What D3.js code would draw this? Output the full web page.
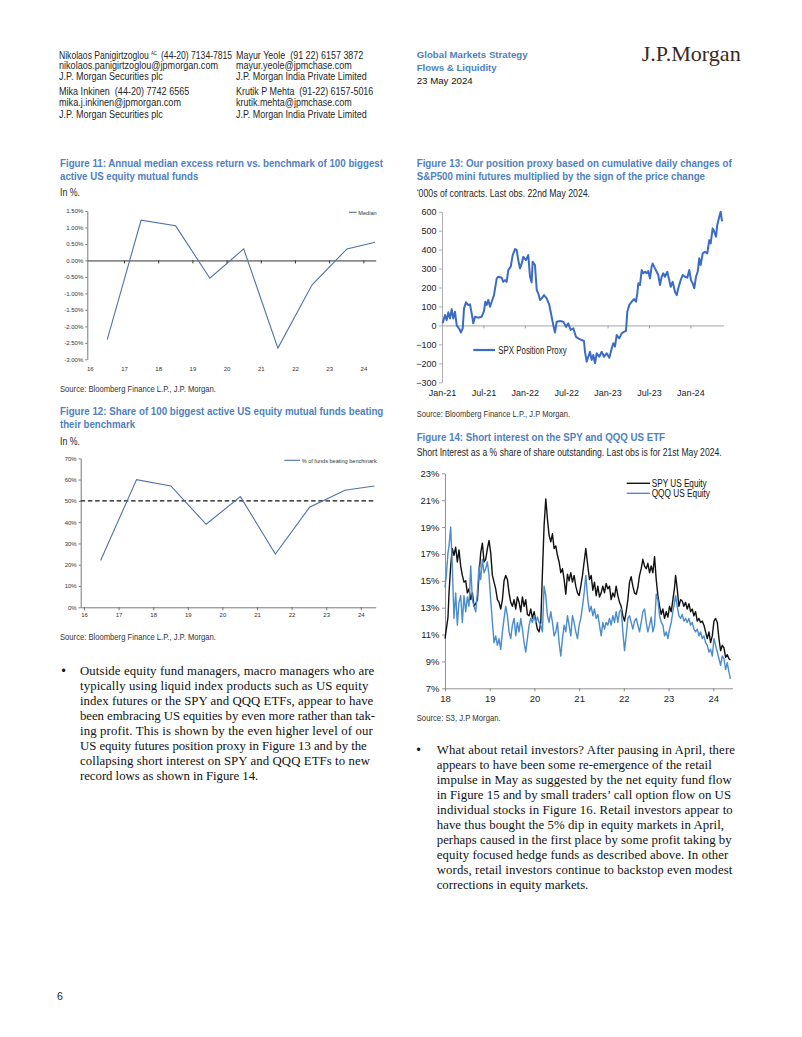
<!DOCTYPE html>
<html><head><meta charset="utf-8">
<script src="https://cdn.jsdelivr.net/npm/d3@7/dist/d3.min.js"></script>
<style>
html,body{margin:0;padding:0;background:#fff;}
svg{display:block;}
text{white-space:pre;}
</style></head><body>
<svg id="page" width="802" height="1037"></svg>
<script>
// ---------------- DATA ----------------
// Figure 11: annual median excess return (%)
const fig11Years = [2016.51, 2017.50, 2018.51, 2019.51, 2020.50, 2021.50, 2022.50, 2023.52, 2024.34];
const fig11Median = [-2.40, 1.22, 1.05, -0.54, 0.35, -2.66, -0.74, 0.35, 0.55];
const fig11YTicks = [1.5, 1.0, 0.5, 0, -0.5, -1.0, -1.5, -2.0, -2.5, -3.0];
const fig11XTicks = [2016, 2017, 2018, 2019, 2020, 2021, 2022, 2023, 2024];
const fig11XLabels = ["16","17","18","19","20","21","22","23","24"];

// Figure 12: share of funds beating benchmark (%)
const fig12Years = [2016.48, 2017.52, 2018.51, 2019.53, 2020.52, 2021.53, 2022.52, 2023.54, 2024.39];
const fig12Share = [22, 60, 57, 39, 52, 25, 47, 55, 57];
const fig12Threshold = 50;
const fig12YTicks = [0, 10, 20, 30, 40, 50, 60, 70];
const fig12XTicks = [2016, 2017, 2018, 2019, 2020, 2021, 2022, 2023, 2024];
const fig12XLabels = ["16","17","18","19","20","21","22","23","24"];

// Figure 13: SPX position proxy ('000s contracts)
const spxDates = [2021.008,2021.036,2021.057,2021.076,2021.097,2021.117,2021.136,2021.157,2021.178,2021.209,
2021.229,2021.250,2021.266,2021.290,2021.314,2021.338,2021.362,2021.378,2021.399,2021.438,
2021.479,2021.507,2021.523,2021.540,2021.559,2021.580,2021.600,2021.628,2021.661,2021.680,
2021.721,2021.740,2021.761,2021.781,2021.801,2021.830,2021.854,2021.882,2021.902,2021.921,
2021.942,2021.963,2021.982,2022.014,2022.042,2022.063,2022.083,2022.095,2022.123,2022.144,
2022.163,2022.184,2022.204,2022.232,2022.264,2022.296,2022.316,2022.344,2022.365,2022.385,
2022.425,2022.465,2022.498,2022.525,2022.554,2022.586,2022.618,2022.646,2022.687,2022.715,
2022.727,2022.748,2022.767,2022.787,2022.808,2022.827,2022.848,2022.868,2022.900,2022.929,
2022.957,2022.989,2023.021,2023.050,2023.069,2023.089,2023.110,2023.141,2023.170,2023.198,
2023.222,2023.238,2023.262,2023.291,2023.319,2023.343,2023.359,2023.371,2023.391,2023.412,
2023.431,2023.452,2023.472,2023.491,2023.512,2023.532,2023.544,2023.572,2023.593,2023.612,
2023.633,2023.653,2023.673,2023.693,2023.721,2023.745,2023.762,2023.786,2023.814,2023.835,
2023.854,2023.883,2023.907,2023.935,2023.963,2023.987,2024.007,2024.028,2024.047,2024.068,
2024.088,2024.107,2024.124,2024.149,2024.176,2024.204,2024.228,2024.245,2024.269,2024.289,
2024.309,2024.325,2024.349,2024.366,2024.380,2024.388];
const spxValues = [11,55,28,69,37,86,37,72,0,-19,
-37,-15,90,122,108,111,55,11,46,41,
46,76,125,108,134,99,125,160,248,257,
252,230,239,230,292,310,371,403,398,345,
301,327,362,345,371,257,227,336,319,187,
169,134,143,160,143,108,64,2,-37,20,
23,20,-7,11,-24,-15,-60,-68,-77,-82,
-139,-191,-165,-139,-182,-156,-200,-147,-165,-139,
-165,-147,-170,-121,-94,-112,-51,-68,-42,-33,
-30,72,108,125,139,125,169,222,213,292,
275,283,275,287,248,310,327,301,283,266,
213,257,275,257,283,239,204,230,178,160,
196,239,266,257,252,292,239,222,196,257,
283,354,319,380,389,380,450,433,512,494,
468,530,573,600,556,550];
const fig13YTicks = [600, 500, 400, 300, 200, 100, 0, -100, -200, -300];
const fig13XTicks = [2021, 2021.5, 2022, 2022.5, 2023, 2023.5, 2024];
const fig13XLabels = ["Jan-21","Jul-21","Jan-22","Jul-22","Jan-23","Jul-23","Jan-24"];

// Figure 14: short interest (% of shares outstanding)
const fig14Dates = [2018.000,2018.030,2018.067,2018.090,2018.127,2018.164,2018.201,
2018.239,2018.276,2018.313,2018.351,2018.388,2018.425,2018.463,2018.500,2018.537,2018.575,
2018.612,2018.649,2018.687,2018.724,2018.761,2018.799,2018.836,2018.873,2018.910,2018.948,
2018.985,2019.022,2019.060,2019.097,2019.134,2019.172,2019.209,2019.246,2019.284,2019.321,
2019.358,2019.396,2019.433,2019.470,2019.507,2019.545,2019.582,2019.619,2019.657,2019.694,
2019.731,2019.769,2019.806,2019.843,2019.881,2019.918,2019.955,2019.993,2020.030,2020.067,
2020.104,2020.142,2020.179,2020.216,2020.254,2020.291,2020.328,2020.366,2020.403,2020.440,
2020.478,2020.515,2020.552,2020.590,2020.627,2020.664,2020.701,2020.739,2020.776,2020.813,
2020.851,2020.888,2020.925,2020.963,2021.000,2021.037,2021.075,2021.112,2021.149,
2021.194,2021.231,2021.269,2021.306,2021.343,2021.381,2021.418,2021.455,2021.493,2021.530,
2021.567,2021.604,2021.642,2021.679,2021.716,2021.754,2021.791,2021.828,2021.866,2021.903,
2021.940,2021.978,2022.015,2022.052,2022.090,2022.127,2022.164,2022.201,2022.239,2022.276,
2022.313,2022.351,2022.388,2022.425,2022.463,2022.500,2022.537,2022.575,2022.612,2022.649,
2022.687,2022.724,2022.761,2022.799,2022.836,2022.873,2022.910,2022.948,2022.985,2023.022,
2023.060,2023.097,2023.134,
2023.157,2023.194,2023.231,2023.269,2023.306,2023.343,2023.381,2023.418,2023.455,2023.493,
2023.530,2023.567,2023.604,2023.642,2023.679,2023.716,2023.754,2023.791,2023.828,2023.866,
2023.903,2023.940,2023.978,2024.015,2024.052,2024.090,2024.127,2024.164,2024.201,2024.239,
2024.276,2024.313,2024.351,2024.385];
const spyValues = [10.7,11.4,12.3,14.1,16.1,17.4,16.9,
17.5,16.4,17.3,16.1,15.4,14.9,15.0,14.1,14.4,13.6,
14.1,13.1,13.3,13.6,15.4,17.1,17.8,16.4,16.6,17.4,
18.0,17.1,15.4,14.9,14.4,13.6,13.4,12.9,13.6,15.0,
15.4,15.1,14.1,13.4,13.1,13.6,12.9,13.8,13.4,12.7,
13.8,13.1,13.6,12.5,12.4,12.9,12.2,12.7,12.0,11.4,
11.2,11.9,15.6,19.1,21.1,19.6,18.4,17.9,18.5,17.4,
17.6,16.9,16.4,15.6,15.9,15.1,14.0,15.5,15.0,15.6,
14.9,15.4,14.6,14.1,13.9,14.6,15.4,16.4,17.4,
16.1,15.1,15.4,14.3,14.9,13.9,14.6,13.8,14.1,14.6,
14.1,14.8,14.4,14.6,13.6,14.1,13.8,14.6,13.9,13.4,
13.1,12.4,12.0,12.7,13.6,14.9,15.3,14.6,14.1,14.0,
14.5,15.4,15.9,16.6,16.1,15.9,16.3,15.6,16.1,15.6,
16.8,15.1,13.9,13.1,12.5,12.9,12.2,12.7,12.3,13.1,
12.7,13.6,14.5,
15.4,14.4,13.1,13.6,13.5,13.1,13.4,12.9,13.3,12.7,
12.9,12.4,12.7,12.0,12.2,11.9,12.0,11.7,11.2,10.7,
11.2,10.4,10.9,12.0,12.2,11.9,10.7,9.8,10.2,10.0,
9.3,9.5,9.2,9.1];
const qqqValues = [14.5,15.4,17.1,17.6,19.0,16.0,12.2,
14.1,11.7,13.4,13.9,11.9,13.9,12.7,13.8,13.1,16.1,
13.6,13.1,12.7,14.1,16.1,15.1,16.6,15.6,15.9,16.4,
15.4,13.6,11.9,10.4,10.9,10.2,10.7,9.9,11.2,12.2,
13.1,12.4,11.2,10.7,11.7,12.2,10.9,11.9,11.2,12.2,
11.4,10.4,9.7,10.7,11.7,12.2,11.9,12.4,11.9,12.3,
11.9,11.7,11.2,14.6,13.9,12.4,11.9,12.7,11.9,10.9,
11.2,11.9,10.4,9.4,10.7,11.7,11.2,12.4,11.7,10.9,
12.4,11.9,11.2,10.7,11.7,12.2,13.1,14.1,15.4,
13.6,12.7,13.1,12.4,12.9,12.2,12.5,11.7,10.9,11.9,
11.4,11.9,11.7,12.2,11.7,12.4,11.9,12.7,11.9,12.7,
12.9,11.2,9.8,10.9,12.2,12.4,11.9,11.4,12.0,12.2,
11.7,11.2,11.9,12.7,12.9,11.9,11.2,11.7,12.3,11.2,
11.7,14.0,13.6,12.4,11.9,11.7,10.9,11.2,10.7,11.4,
11.9,12.7,13.4,
13.9,13.1,12.4,12.2,12.5,12.0,12.2,11.9,12.2,11.7,
11.9,11.4,11.2,11.4,10.9,11.2,10.7,10.9,10.4,10.2,
9.7,9.9,9.4,10.7,10.2,9.7,9.2,8.7,9.4,9.2,
8.4,8.9,8.2,7.7];
const fig14YTicks = [23, 21, 19, 17, 15, 13, 11, 9, 7];
const fig14XTicks = [2018, 2019, 2020, 2021, 2022, 2023, 2024];
const fig14XLabels = ["18","19","20","21","22","23","24"];

// ---------------- DRAWING ----------------
const svg = d3.select('#page');
svg.append('rect').attr('width', 802).attr('height', 1037).attr('fill', '#fff');

const SANS = "'Liberation Sans', Arial, Helvetica, sans-serif";
const NARROW = "'Liberation Sans Narrow', 'Arial Narrow', 'Liberation Sans', Arial, sans-serif";
const SERIF = "'Liberation Serif', 'Times New Roman', serif";
const BLUE = '#4f81bd';
const DARK = '#262626';

function txt(parent, x, y, s, o = {}) {
  const t = parent.append('text').attr('x', x).attr('y', y).text(s)
    .attr('font-family', o.family || SANS).attr('font-size', o.size || 10)
    .attr('fill', o.fill || DARK);
  if (o.weight) t.attr('font-weight', o.weight);
  if (o.anchor) t.attr('text-anchor', o.anchor);
  if (o.width) t.attr('textLength', o.width).attr('lengthAdjust', o.adjust || 'spacingAndGlyphs');
  return t;
}

// ---- header ----
const hdr = svg.append('g');
// first author line: condensed horizontally by a group scale (superscript kept separate)
const l1 = hdr.append('g').attr('transform', 'translate(59,58.6) scale(0.86,1)');
txt(l1, 0, 0, 'Nikolaos Panigirtzoglou', { size: 10 });
txt(l1, 107, -3.6, 'AC', { size: 5 });
txt(l1, 118.6, 0, '(44-20) 7134-7815', { size: 10 });
const hdrLeft = [[69.4, 'nikolaos.panigirtzoglou@jpmorgan.com', 159], [80.4, 'J.P. Morgan Securities plc', 103.7],
  [95.4, 'Mika Inkinen  (44-20) 7742 6565', 130.3], [106.4, 'mika.j.inkinen@jpmorgan.com', 122], [117.6, 'J.P. Morgan Securities plc', 103.7]];
hdrLeft.forEach(d => txt(hdr, 59, d[0], d[1], { size: 10, family: NARROW, width: d[2] }));
const hdrRight = [[58.6, 'Mayur Yeole  (91 22) 6157 3872', 127.3], [69.4, 'mayur.yeole@jpmchase.com', 115.7], [80.4, 'J.P. Morgan India Private Limited', 130.7],
  [95.4, 'Krutik P Mehta  (91-22) 6157-5016', 137.3], [106.4, 'krutik.mehta@jpmchase.com', 115.7], [117.6, 'J.P. Morgan India Private Limited', 130.7]];
hdrRight.forEach(d => txt(hdr, 236, d[0], d[1], { size: 10, family: NARROW, width: d[2] }));
txt(hdr, 416.7, 57.6, 'Global Markets Strategy', { size: 9.7, weight: 'bold', fill: BLUE, width: 111 });
txt(hdr, 416.7, 71, 'Flows & Liquidity', { size: 9.7, weight: 'bold', fill: BLUE, width: 80 });
txt(hdr, 416.7, 83.6, '23 May 2024', { size: 9.7, fill: '#111' });
txt(hdr, 641.7, 61, 'J.P.Morgan', { size: 21, family: SERIF, fill: '#3a2a1e', width: 99 });

// ---- generic title helpers ----
function title(lines, x) {
  lines.forEach(l => txt(svg, x, l[0], l[1], { size: 11, weight: 'bold', fill: BLUE, family: NARROW, width: l[2] }));
}

// ================= FIGURE 11 =================
title([[166.7, 'Figure 11: Annual median excess return vs. benchmark of 100 biggest', 323],
       [180, 'active US equity mutual funds', 138.3]], 60);
txt(svg, 60, 196, 'In %.', { size: 10, family: NARROW, width: 20 });
{
  const x = d3.scaleLinear().domain([2015.927, 2024.36]).range([87.3, 375.7]);
  const y = d3.scaleLinear().domain([-3, 1.5]).range([359.3, 211]);
  const g = svg.append('g');
  const ya = g.append('g').attr('transform', `translate(${x.range()[0]},0)`)
    .call(d3.axisLeft(y).tickValues(fig11YTicks).tickFormat(d => d.toFixed(2) + '%').tickSize(2).tickSizeOuter(0).tickPadding(2));
  ya.attr('font-family', SANS).attr('font-size', 6);
  ya.selectAll('path,line').attr('stroke', '#555').attr('stroke-width', 0.8);
  ya.selectAll('text').attr('fill', '#333');
  const za = g.append('g').attr('transform', `translate(0,${y(0)})`)
    .call(d3.axisBottom(x).tickValues(fig11XTicks.slice(1)).tickFormat('').tickSize(3).tickSizeOuter(0));
  za.selectAll('path,line').attr('stroke', '#333').attr('stroke-width', 1);
  const xa = g.append('g').attr('transform', `translate(0,${y.range()[0]})`)
    .call(d3.axisBottom(x).tickValues(fig11XTicks).tickFormat((d, i) => fig11XLabels[i]).tickSize(0).tickPadding(7));
  xa.select('.domain').remove();
  xa.attr('font-family', SANS).attr('font-size', 6);
  xa.selectAll('text').attr('fill', '#333');
  g.append('path').datum(fig11Years.map((d, i) => [d, fig11Median[i]]))
    .attr('d', d3.line().x(d => x(d[0])).y(d => y(d[1])))
    .attr('fill', 'none').attr('stroke', '#4e72a8').attr('stroke-width', 1.1);
  g.append('line').attr('x1', 349).attr('x2', 356.7).attr('y1', 212.3).attr('y2', 212.3).attr('stroke', '#4e72a8').attr('stroke-width', 1.1);
  txt(g, 358.3, 214.5, 'Median', { size: 6, fill: '#333', width: 18.4 });
}
txt(svg, 60, 392, 'Source: Bloomberg Finance L.P., J.P. Morgan.', { size: 9, family: NARROW, fill: '#333', width: 156 });

// ================= FIGURE 12 =================
title([[414.7, 'Figure 12: Share of 100 biggest active US equity mutual funds beating', 323.3],
       [428, 'their benchmark', 75]], 60);
txt(svg, 60, 444.6, 'In %.', { size: 10, family: NARROW, width: 20 });
{
  const x = d3.scaleLinear().domain([2015.905, 2024.43]).range([80.7, 375.7]);
  const y = d3.scaleLinear().domain([0, 70]).range([607.3, 458.3]);
  const g = svg.append('g');
  const ya = g.append('g').attr('transform', `translate(${x.range()[0]},0)`)
    .call(d3.axisLeft(y).tickValues(fig12YTicks).tickFormat(d => d + '%').tickSize(2).tickSizeOuter(0).tickPadding(2));
  ya.attr('font-family', SANS).attr('font-size', 6);
  ya.selectAll('path,line').attr('stroke', '#555').attr('stroke-width', 0.8);
  ya.selectAll('text').attr('fill', '#333');
  const xa = g.append('g').attr('transform', `translate(0,${y(0)})`)
    .call(d3.axisBottom(x).tickValues(fig12XTicks).tickFormat((d, i) => fig12XLabels[i]).tickSize(3).tickSizeOuter(0).tickPadding(2.6));
  xa.attr('font-family', SANS).attr('font-size', 6);
  xa.selectAll('path,line').attr('stroke', '#555').attr('stroke-width', 0.8);
  xa.selectAll('text').attr('fill', '#333');
  g.append('path').datum(x.domain().map(d => [d, fig12Threshold]))
    .attr('d', d3.line().x(d => x(d[0])).y(d => y(d[1])))
    .attr('fill', 'none').attr('stroke', '#111').attr('stroke-width', 1.4).attr('stroke-dasharray', '4.5,2.7');
  g.append('path').datum(fig12Years.map((d, i) => [d, fig12Share[i]]))
    .attr('d', d3.line().x(d => x(d[0])).y(d => y(d[1])))
    .attr('fill', 'none').attr('stroke', '#4e72a8').attr('stroke-width', 1.1);
  g.append('line').attr('x1', 284.3).attr('x2', 300).attr('y1', 460.3).attr('y2', 460.3).attr('stroke', '#4e72a8').attr('stroke-width', 1.1);
  txt(g, 301.7, 462.5, '% of funds beating benchmark', { size: 6, fill: '#333', width: 75 });
}
txt(svg, 60, 640.3, 'Source: Bloomberg Finance L.P., J.P. Morgan.', { size: 9, family: NARROW, fill: '#333', width: 156 });

// ================= FIGURE 13 =================
title([[166.7, 'Figure 13: Our position proxy based on cumulative daily changes of', 315],
       [180, 'S&P500 mini futures multiplied by the sign of the price change', 288.3]], 416.7);
txt(svg, 416.7, 196.6, '\u2018000s of contracts. Last obs. 22nd May 2024.', { size: 10, family: NARROW, width: 173.3 });
{
  const x = d3.scaleLinear().domain([2021, 2024.4]).range([442, 723.5]);
  const y = d3.scaleLinear().domain([-300, 600]).range([382.3, 211.7]);
  const g = svg.append('g');
  const ya = g.append('g').attr('transform', `translate(${x.range()[0]},0)`)
    .call(d3.axisLeft(y).tickValues(fig13YTicks).tickSize(3).tickSizeOuter(0).tickPadding(2.5));
  ya.attr('font-family', SANS).attr('font-size', 9);
  ya.selectAll('path,line').attr('stroke', '#999').attr('stroke-width', 0.8);
  ya.selectAll('text').attr('fill', '#222');
  const za = g.append('g').attr('transform', `translate(0,${y(0)})`)
    .call(d3.axisBottom(x).tickValues(fig13XTicks.slice(1)).tickFormat('').tickSize(3).tickSizeOuter(0));
  za.selectAll('path,line').attr('stroke', '#999').attr('stroke-width', 0.9);
  const xa = g.append('g').attr('transform', `translate(0,${y.range()[0]})`)
    .call(d3.axisBottom(x).tickValues(fig13XTicks).tickFormat((d, i) => fig13XLabels[i]).tickSize(0).tickPadding(7.8));
  xa.select('.domain').remove();
  xa.attr('font-family', SANS).attr('font-size', 9);
  xa.selectAll('text').attr('fill', '#222');
  g.append('path').datum(spxDates.map((d, i) => [d, spxValues[i]]))
    .attr('d', d3.line().x(d => x(d[0])).y(d => y(d[1])))
    .attr('fill', 'none').attr('stroke', '#3b6cc5').attr('stroke-width', 2).attr('stroke-linejoin', 'round');
  g.append('line').attr('x1', 473.3).attr('x2', 495).attr('y1', 350).attr('y2', 350).attr('stroke', '#3b6cc5').attr('stroke-width', 2.2);
  txt(g, 498.3, 353.5, 'SPX Position Proxy', { size: 10, family: NARROW, fill: '#222', width: 68.3 });
}
txt(svg, 416.7, 416.5, 'Source: Bloomberg Finance L.P., J.P Morgan.', { size: 9, family: NARROW, fill: '#333', width: 153.3 });

// ================= FIGURE 14 =================
title([[440.7, 'Figure 14: Short interest on the SPY and QQQ US ETF', 248.3]], 416.7);
txt(svg, 416.7, 456, 'Short Interest as a % share of share outstanding. Last obs is for 21st May 2024.', { size: 10, family: NARROW, width: 305 });
{
  const x = d3.scaleLinear().domain([2018, 2024.43]).range([445, 732.5]);
  const y = d3.scaleLinear().domain([7, 23]).range([688.3, 473.3]);
  const g = svg.append('g');
  const ya = g.append('g').attr('transform', `translate(${x.range()[0]},0)`)
    .call(d3.axisLeft(y).tickValues(fig14YTicks).tickFormat(d => d + '%').tickSize(3).tickSizeOuter(0).tickPadding(2.5));
  ya.attr('font-family', SANS).attr('font-size', 9.5);
  ya.selectAll('path,line').attr('stroke', '#777').attr('stroke-width', 0.8);
  ya.selectAll('text').attr('fill', '#222');
  const xa = g.append('g').attr('transform', `translate(0,${y.range()[0]})`)
    .call(d3.axisBottom(x).tickValues(fig14XTicks).tickFormat((d, i) => fig14XLabels[i]).tickSize(3).tickSizeOuter(0).tickPadding(3.5));
  xa.attr('font-family', SANS).attr('font-size', 9.5);
  xa.selectAll('path,line').attr('stroke', '#777').attr('stroke-width', 0.8);
  xa.selectAll('text').attr('fill', '#222');
  const line = d3.line().x(d => x(d[0])).y(d => y(d[1]));
  g.append('path').datum(fig14Dates.map((d, i) => [d, spyValues[i]])).attr('d', line)
    .attr('fill', 'none').attr('stroke', '#111').attr('stroke-width', 1.4).attr('stroke-linejoin', 'round');
  g.append('path').datum(fig14Dates.map((d, i) => [d, qqqValues[i]])).attr('d', line)
    .attr('fill', 'none').attr('stroke', '#4a8ccc').attr('stroke-width', 1.4).attr('stroke-linejoin', 'round');
  g.append('line').attr('x1', 626.7).attr('x2', 650).attr('y1', 483.3).attr('y2', 483.3).attr('stroke', '#111').attr('stroke-width', 1.4);
  g.append('line').attr('x1', 626.7).attr('x2', 650).attr('y1', 493.3).attr('y2', 493.3).attr('stroke', '#4a8ccc').attr('stroke-width', 1.4);
  txt(g, 651.7, 486.8, 'SPY US Equity', { size: 10, family: NARROW, fill: '#111', width: 55 });
  txt(g, 651.7, 496.8, 'QQQ US Equity', { size: 10, family: NARROW, fill: '#111', width: 58.3 });
}
txt(svg, 416.7, 721, 'Source: S3, J.P Morgan.', { size: 9, family: NARROW, fill: '#333', width: 84 });

// ================= BODY TEXT =================
const para1 = [
  ['Outside equity fund managers, macro managers who are', 374.3],
  ['typically using liquid index products such as US equity', 368.3],
  ['index futures or the SPY and QQQ ETFs, appear to have', 373.3],
  ['been embracing US equities by even more rather than tak-', 375],
  ['ing profit. This is shown by the even higher level of our', 372.7],
  ['US equity futures position proxy in Figure 13 and by the', 366.7],
  ['collapsing short interest on SPY and QQQ ETFs to new', 370],
  ['record lows as shown in Figure 14.', 258.3]
];
const para2 = [
  ['What about retail investors? After pausing in April, there', 735],
  ['appears to have been some re-emergence of the retail', 711.7],
  ['impulse in May as suggested by the net equity fund flow', 731.7],
  ['in Figure 15 and by small traders\u2019 call option flow on US', 731],
  ['individual stocks in Figure 16. Retail investors appear to', 732.7],
  ['have thus bought the 5% dip in equity markets in April,', 724],
  ['perhaps caused in the first place by some profit taking by', 731.7],
  ['equity focused hedge funds as described above. In other', 728.3],
  ['words, retail investors continue to backstop even modest', 732.3],
  ['corrections in equity markets.', 588.3]
];
function para(lines, x0, y0, lh, bx) {
  txt(svg, bx, y0, '\u2022', { size: 12, family: SANS, fill: '#111' });
  lines.forEach((l, i) => txt(svg, x0, y0 + i * lh, l[0], { size: 12.8, family: SERIF, fill: '#111', width: l[1] - x0, adjust: 'spacing' }));
}
para(para1, 80, 675, 14.95, 61.5);
para(para2, 436.7, 754, 15.0, 416.5);

txt(svg, 57, 1000, '6', { size: 10.5, fill: '#222' });
</script>
</body></html>
